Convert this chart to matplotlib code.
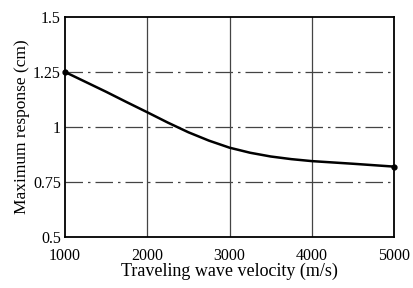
import matplotlib
matplotlib.use('Agg')
import matplotlib.pyplot as plt
from matplotlib.ticker import FuncFormatter

# data
velocity = [1000, 1250, 1500, 1750, 2000, 2250, 2500, 2750, 3000,
            3250, 3500, 3750, 4000, 4500, 5000]
response = [1.25, 1.205, 1.16, 1.113, 1.067, 1.02, 0.976, 0.938, 0.906,
            0.883, 0.866, 0.854, 0.845, 0.833, 0.82]

xticks = [1000, 2000, 3000, 4000, 5000]
yticks = [0.5, 0.75, 1, 1.25, 1.5]

plt.rcParams['font.family'] = ['Liberation Serif', 'DejaVu Serif']

fig = plt.figure(figsize=(4.14, 2.88), dpi=100)
ax = fig.add_axes([0.157, 0.177, 0.795, 0.764])

# grid: vertical solid, horizontal dash-dot
for x in xticks[1:-1]:
    ax.axvline(x, color='#444444', lw=0.9, zorder=1)
for y in yticks[1:-1]:
    ax.axhline(y, color='#444444', lw=0.9, dashes=(14, 4, 2, 4), zorder=1)

ax.plot(velocity, response, color='black', lw=1.8, zorder=3,
        solid_joinstyle='round')
ax.plot([velocity[0], velocity[-1]], [response[0], response[-1]], 'o',
        color='black', ms=3.5, zorder=4, clip_on=False)

ax.set_xlim(1000, 5000)
ax.set_ylim(0.5, 1.5)
ax.set_xticks(xticks)
ax.set_yticks(yticks)
ax.yaxis.set_major_formatter(FuncFormatter(lambda v, p: ('%g' % v)))
ax.tick_params(length=0, labelsize=11.5)
ax.tick_params(axis='x', pad=8)
ax.tick_params(axis='y', pad=3)
for s in ax.spines.values():
    s.set_linewidth(1.3)

ax.set_xlabel('Traveling wave velocity (m/s)', fontsize=13, labelpad=-1)
ax.set_ylabel('Maximum response (cm)', fontsize=12.5, labelpad=2)

fig.savefig('out.png', dpi=100)
